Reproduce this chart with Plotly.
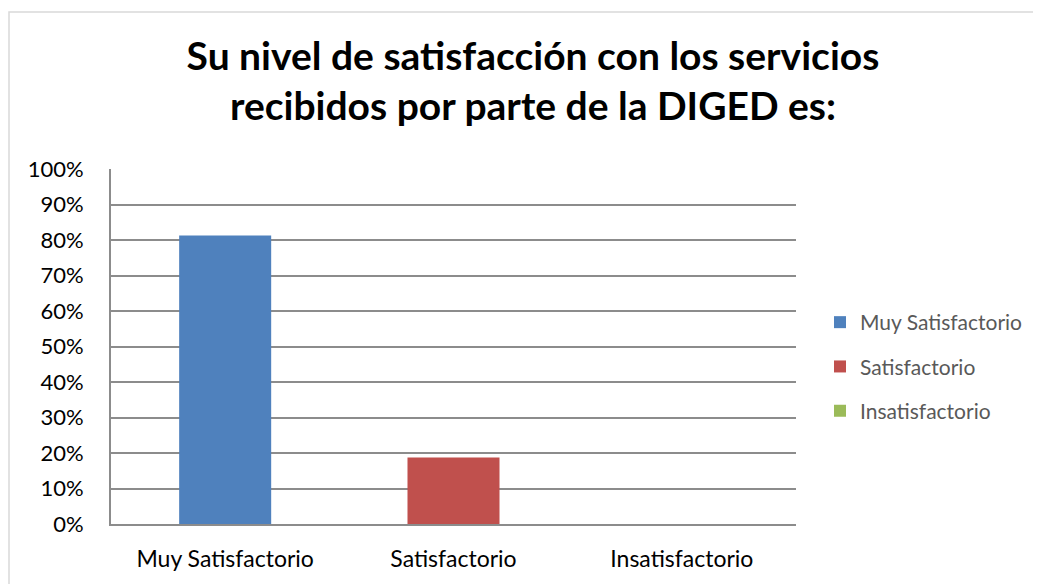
import plotly.graph_objects as go

categories = ["Muy Satisfactorio", "Satisfactorio", "Insatisfactorio"]
values = [0.8125, 0.1875, 0.0]
colors = ["#4F81BD", "#C0504D", "#9BBB59"]
tick_vals = [0, 0.1, 0.2, 0.3, 0.4, 0.5, 0.6, 0.7, 0.8, 0.9, 1.0]
tick_text = ["0%", "10%", "20%", "30%", "40%", "50%", "60%", "70%", "80%", "90%", "100%"]

OFF = 8  # default page body margin
W, H = 1041 - OFF, 584 - OFF
# plot area in page pixels: x 111..796, y 169..524
L = 111 - OFF
R = W - (796 - OFF)
T = 169 - OFF
B = H - (524 - OFF)

fig = go.Figure()
for cat, val, col in zip(categories, values, colors):
    fig.add_trace(go.Bar(x=[cat], y=[val], name=cat, legendgroup=cat,
                         marker=dict(color=col, line=dict(width=0)), width=0.403))

pw = W - L - R
ph = H - T - B
def px_x(p):
    return (p - OFF - L) / pw
def px_y(p):
    return (H - B - (p - OFF)) / ph

fig.update_layout(
    width=W, height=H,
    margin=dict(l=L, r=R, t=T, b=B, autoexpand=False),
    paper_bgcolor="white", plot_bgcolor="white",
    barmode="overlay",
    showlegend=True,
    font=dict(family="Lato, 'Open Sans', sans-serif", color="#000000"),
    title=dict(
        text="Su nivel de satisfacción con los servicios<br>recibidos por parte de la DIGED es:",
        x=(533 - OFF) / W, xref="container", xanchor="center",
        y=1 - 61.5 / H, yref="container", yanchor="middle",
        font=dict(family="Lato, 'Open Sans', sans-serif", size=39, color="#000000", weight="bold"),
    ),
    legend=dict(
        x=px_x(820), xanchor="left", y=px_y(302), yanchor="top",
        font=dict(size=21, color="#595959"),
        itemwidth=30, tracegroupgap=14, bgcolor="rgba(0,0,0,0)",
        traceorder="grouped",
    ),
    xaxis=dict(
        showgrid=False, showline=True, linecolor="#8C8C8C", linewidth=2,
        ticks="", tickfont=dict(size=23, color="#000000"),
        ticklabelstandoff=13, fixedrange=True,
    ),
    yaxis=dict(
        range=[0, 1], tickvals=tick_vals, ticktext=tick_text,
        showgrid=True, gridcolor="#8C8C8C", gridwidth=2,
        showline=True, linecolor="#8C8C8C", linewidth=2,
        zeroline=False, ticks="", tickfont=dict(size=22, color="#000000"),
        ticklabelstandoff=21, fixedrange=True,
    ),
    shapes=[dict(type="rect", xref="paper", yref="paper",
                 x0=px_x(9), x1=px_x(1060), y0=px_y(600), y1=px_y(12),
                 line=dict(color="#D9D9D9", width=1.5), fillcolor="rgba(0,0,0,0)", layer="below")],
)

fig.write_html("out.html")
